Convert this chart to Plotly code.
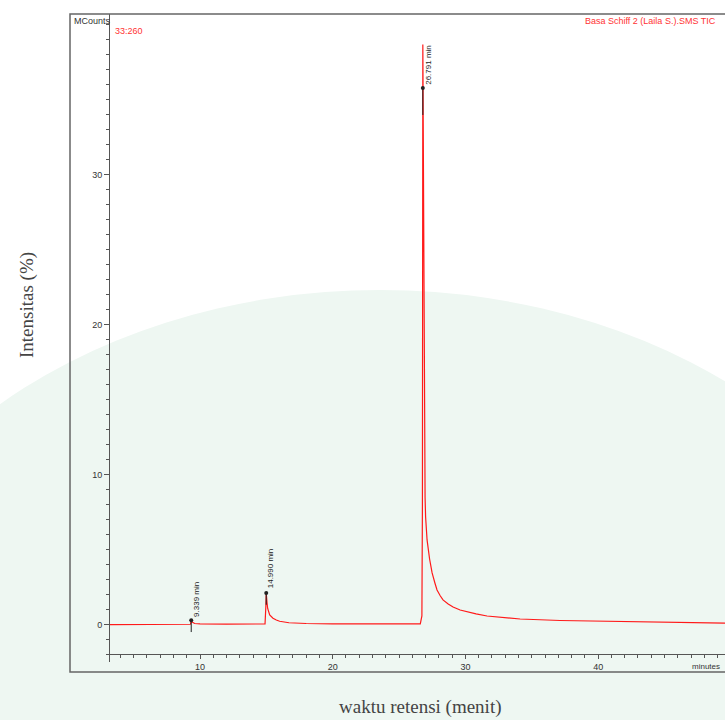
import plotly.graph_objects as go

# ---- data ----
time_min = [3.22, 5.0, 7.0, 9.0, 9.28, 9.339, 9.40, 9.6, 10.0, 12.0, 14.0, 14.9, 14.96, 14.99,
            15.05, 15.1, 15.25, 15.5, 15.75, 16.0, 16.7, 18.0, 20.0, 22.0, 24.0, 26.0, 26.6,
            26.72, 26.76, 26.791, 26.82, 26.85, 26.88, 26.92, 26.96, 27.0, 27.11, 27.3, 27.49,
            27.7, 27.86, 28.1, 28.31, 28.7, 29.07, 29.6, 30.12, 30.8, 31.63, 32.8, 34.12,
            37.13, 40.14, 45.0, 49.56]
intensity = [0.02, 0.02, 0.02, 0.03, 0.05, 0.32, 0.2, 0.1, 0.08, 0.06, 0.06, 0.07, 1.2, 2.13,
             1.5, 1.1, 0.67, 0.45, 0.33, 0.25, 0.15, 0.1, 0.08, 0.07, 0.07, 0.07, 0.08,
             0.6, 8.0, 38.7, 33.0, 24.0, 16.0, 11.0, 8.5, 7.2, 5.67, 4.4, 3.47,
             2.8, 2.33, 1.95, 1.67, 1.4, 1.2, 1.0, 0.87, 0.74, 0.6, 0.5, 0.4,
             0.3, 0.25, 0.18, 0.13]

peak_times = [9.339, 14.990, 26.791]
peak_marks = [0.32, 2.13, 35.8]
peak_mark_low = [-0.47, 1.35, 34.0]
peak_labels = ["9.339 min", "14.990 min", "26.791 min"]

x_ticks = [10, 20, 30, 40]
y_ticks = [0, 10, 20, 30]

trace_name = "Basa Schiff 2 (Laila S.).SMS TIC"
scan_label = "33:260"

# ---- geometry helpers (pixels -> paper) ----
W, H = 725, 720
L, R, T, B = 110, 0, 14, 58
PW, PH = W - L - R, H - T - B


def px(x):
    return (x - L) / PW


def py(y):
    return (H - B - y) / PH


fig = go.Figure()

fig.add_trace(go.Scatter(x=time_min, y=intensity, mode="lines",
                         line=dict(color="#ff1a1a", width=1.2), hoverinfo="skip",
                         showlegend=False))

# peak marker segments
seg_x, seg_y = [], []
for t, hi, lo in zip(peak_times, peak_marks, peak_mark_low):
    seg_x += [t, t, None]
    seg_y += [hi, lo, None]
fig.add_trace(go.Scatter(x=seg_x, y=seg_y, mode="lines",
                         line=dict(color="#222222", width=1), showlegend=False,
                         hoverinfo="skip"))
fig.add_trace(go.Scatter(x=peak_times, y=peak_marks, mode="markers",
                         marker=dict(color="#222222", size=4), showlegend=False,
                         hoverinfo="skip"))

label_shift = [5, 4, 6]
label_yshift = [1, 3, 1]
for t, m, lab, xs, ys in zip(peak_times, peak_marks, peak_labels, label_shift, label_yshift):
    fig.add_annotation(x=t, y=m, text=lab, textangle=-90, showarrow=False,
                       xanchor="center", yanchor="bottom", xshift=xs, yshift=ys,
                       font=dict(family="Liberation Sans, Arial", size=8, color="#222222"))

# watermark tint
fig.add_shape(type="circle", xref="paper", yref="paper",
              x0=px(380 - 560), x1=px(380 + 560), y0=py(720 + 430), y1=py(290),
              fillcolor="#eef7f2", line=dict(width=0), layer="below")

# outer frame
fig.add_shape(type="rect", xref="paper", yref="paper",
              x0=px(70), x1=px(740), y0=py(672), y1=py(14),
              line=dict(color="#666666", width=1.5), fillcolor="rgba(0,0,0,0)",
              layer="above")

tick_font = dict(family="Liberation Sans, Arial", size=9, color="#333333")

fig.update_layout(
    width=W, height=H,
    margin=dict(l=L, r=R, t=T, b=B, pad=0),
    paper_bgcolor="white", plot_bgcolor="rgba(0,0,0,0)",
    showlegend=False,
    xaxis=dict(range=[3.218, 49.56], showgrid=False, zeroline=False,
               anchor="free", position=8 / PH,
               showline=True, linecolor="#555555", linewidth=1,
               tickmode="array", tickvals=x_ticks, ticktext=[str(v) for v in x_ticks],
               ticks="outside", ticklen=4, tickcolor="#555555", tickfont=tick_font,
               minor=dict(dtick=1, ticks="outside", ticklen=3, tickcolor="#555555")),
    yaxis=dict(range=[-2.467, 40.73], showgrid=False, zeroline=False,
               showline=True, linecolor="#555555", linewidth=1,
               tickmode="array", tickvals=y_ticks, ticktext=[str(v) for v in y_ticks],
               ticks="outside", ticklen=5, tickcolor="#555555", tickfont=tick_font,
               minor=dict(dtick=1, ticks="outside", ticklen=3, tickcolor="#555555")),
)

# texts
fig.add_annotation(xref="paper", yref="paper", x=px(72), y=py(21), text="MCounts",
                   showarrow=False, xanchor="left", yanchor="middle",
                   font=dict(family="Liberation Sans, Arial", size=9, color="#333333"))
fig.add_annotation(xref="paper", yref="paper", x=px(113), y=py(31), text=scan_label,
                   showarrow=False, xanchor="left", yanchor="middle",
                   font=dict(family="Liberation Sans, Arial", size=9, color="#ff3333"))
fig.add_annotation(xref="paper", yref="paper", x=px(718), y=py(21), text=trace_name,
                   showarrow=False, xanchor="right", yanchor="middle",
                   font=dict(family="Liberation Sans, Arial", size=9, color="#ff3333"))
fig.add_annotation(xref="paper", yref="paper", x=px(722), y=py(666), text="minutes",
                   showarrow=False, xanchor="right", yanchor="middle",
                   font=dict(family="Liberation Sans, Arial", size=8, color="#333333"))
fig.add_annotation(xref="paper", yref="paper", x=px(420), y=py(707),
                   text="waktu retensi (menit)", showarrow=False,
                   xanchor="center", yanchor="middle",
                   font=dict(family="Liberation Serif, Times New Roman", size=19,
                             color="#444444"))
fig.add_annotation(xref="paper", yref="paper", x=px(27), y=py(305),
                   text="Intensitas (%)", showarrow=False, textangle=-90,
                   xanchor="center", yanchor="middle",
                   font=dict(family="Liberation Serif, Times New Roman", size=19,
                             color="#444444"))

fig.write_html("out.html")
